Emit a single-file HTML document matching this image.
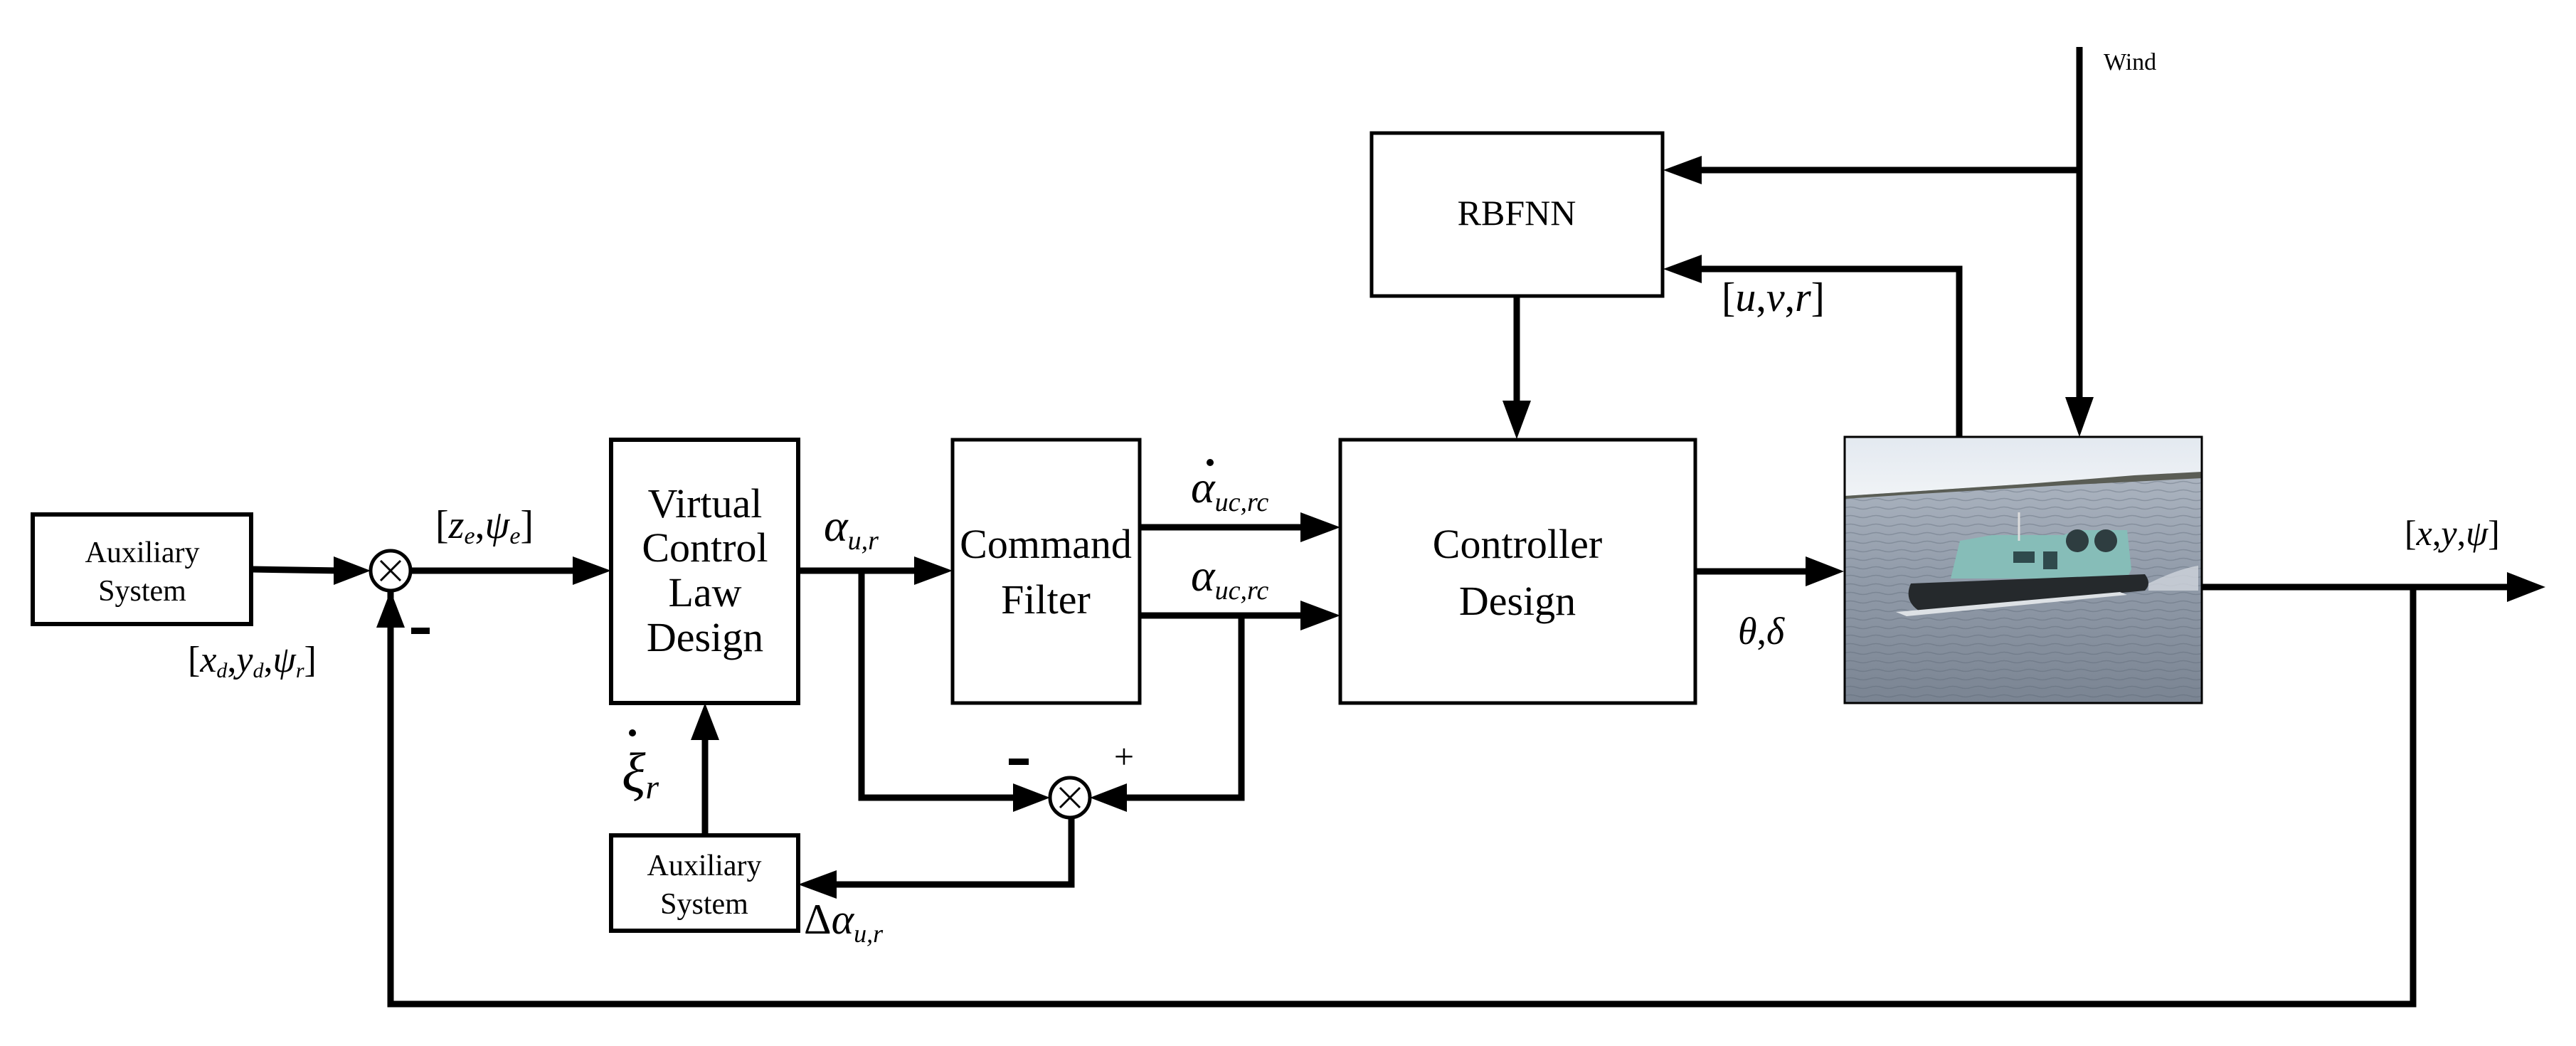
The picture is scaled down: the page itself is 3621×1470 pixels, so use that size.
<!DOCTYPE html>
<html><head><meta charset="utf-8"><style>
html,body{margin:0;padding:0;background:#fff;}
svg{display:block;}
svg text{font-family:"Liberation Serif","DejaVu Serif",serif;fill:#000;}
.it{font-style:italic;}
</style></head><body>
<svg width="3621" height="1470" viewBox="0 0 3621 1470" xmlns="http://www.w3.org/2000/svg" font-family="Liberation Serif, DejaVu Serif, serif">
<defs>
<linearGradient id="sky" x1="0" y1="0" x2="0" y2="1"><stop offset="0" stop-color="#e3e9f0"/><stop offset="1" stop-color="#f0f3f6"/></linearGradient>
<linearGradient id="water" x1="0" y1="0" x2="0" y2="1"><stop offset="0" stop-color="#b6bec9"/><stop offset="0.5" stop-color="#939dab"/><stop offset="1" stop-color="#7a8492"/></linearGradient>
<pattern id="waves" width="36" height="12" patternUnits="userSpaceOnUse"><path d="M0 6 Q9 3 18 6 T36 6" fill="none" stroke="#56606e" stroke-width="1.5" opacity="0.35"/></pattern>
</defs>

<g fill="none" stroke="#000">
<rect x="46" y="723" width="307" height="154" stroke-width="6"/>
<rect x="859" y="618" width="263" height="370" stroke-width="6"/>
<rect x="1339" y="618" width="263" height="370" stroke-width="5"/>
<rect x="1884" y="618" width="499" height="370" stroke-width="5"/>
<rect x="1928" y="187" width="409" height="229" stroke-width="5"/>
<rect x="859" y="1174" width="263" height="134" stroke-width="6"/>
<circle cx="549" cy="802" r="28" stroke-width="5"/>
<circle cx="1504" cy="1121" r="28" stroke-width="5"/>
</g>
<g stroke="#000" stroke-width="3">
<line x1="535" y1="788" x2="563" y2="816"/><line x1="563" y1="788" x2="535" y2="816"/>
<line x1="1490" y1="1107" x2="1518" y2="1135"/><line x1="1518" y1="1107" x2="1490" y2="1135"/>
</g>

<g fill="none" stroke="#000" stroke-width="9" stroke-linejoin="miter">
<line x1="353" y1="800" x2="480" y2="802"/>
<line x1="577" y1="802" x2="810" y2="802"/>
<line x1="1122" y1="802" x2="1290" y2="802"/>
<polyline points="1211,802 1211,1121 1440,1121"/>
<line x1="1602" y1="741" x2="1830" y2="741"/>
<line x1="1602" y1="865" x2="1830" y2="865"/>
<polyline points="1745,865 1745,1121 1568,1121"/>
<polyline points="1506,1149 1506,1243 1175,1243"/>
<line x1="991" y1="1174" x2="991" y2="1040"/>
<polyline points="549,830 549,1411 3392,1411 3392,825"/>
<line x1="3095" y1="825" x2="3525" y2="825"/>
<line x1="2383" y1="803" x2="2540" y2="803"/>
<line x1="2132" y1="416" x2="2132" y2="565"/>
<line x1="2923" y1="66" x2="2923" y2="560"/>
<line x1="2923" y1="239" x2="2390" y2="239"/>
<polyline points="2754,614 2754,378 2390,378"/>
</g>
<g fill="#000">
<polygon points="521,802 469,782 469,822"/>
<polygon points="859,802 805,782 805,822"/>
<polygon points="1339,802 1285,782 1285,822"/>
<polygon points="1884,741 1828,720 1828,762"/>
<polygon points="1884,865 1828,844 1828,886"/>
<polygon points="1476,1121 1424,1101 1424,1141"/>
<polygon points="1532,1121 1584,1101 1584,1141"/>
<polygon points="1122,1243 1176,1223 1176,1263"/>
<polygon points="991,988 971,1040 1011,1040"/>
<polygon points="549,830 529,882 569,882"/>
<polygon points="2592,803 2538,782 2538,824"/>
<polygon points="3578,825 3524,804 3524,846"/>
<polygon points="2132,617 2112,563 2152,563"/>
<polygon points="2923,614 2903,558 2943,558"/>
<polygon points="2338,239 2392,219 2392,259"/>
<polygon points="2338,378 2392,358 2392,398"/>
</g>

<g>
<rect x="2593" y="614" width="502" height="374" fill="url(#water)"/>
<rect x="2593" y="614" width="502" height="374" fill="url(#waves)"/>
<polygon points="2593,614 3095,614 3095,664 2593,697" fill="url(#sky)"/>
<polygon points="2593,697 2700,690 2850,680 3000,668 3095,663 3095,672 2900,682 2700,694 2593,701" fill="#5a5d55"/>
<polygon points="2742,813 2755,760 2800,752 2900,752 2920,745 2990,745 2996,800 2990,813" fill="#86bdb8"/>
<circle cx="2920" cy="760" r="16" fill="#2e3d40"/>
<circle cx="2960" cy="760" r="16" fill="#2e3d40"/>
<rect x="2830" y="775" width="30" height="16" fill="#2f4a4c"/>
<rect x="2872" y="775" width="20" height="25" fill="#2f4a4c"/>
<line x1="2838" y1="760" x2="2838" y2="720" stroke="#ddd" stroke-width="3"/>
<path d="M2686 820 L3015 807 Q3025 820 3015 830 L2700 860 Q2675 845 2686 820 Z" fill="#25292c"/>
<path d="M2665 860 L2980 832 L2990 836 L2680 866 Z" fill="#dde1e5"/>
<path d="M3020 820 Q3060 800 3090 795 L3090 830 Q3050 830 3020 830 Z" fill="#d0d5dc" opacity="0.8"/>
<rect x="2593" y="614" width="502" height="374" fill="none" stroke="#000" stroke-width="3"/>
</g>

<g font-size="42" text-anchor="middle">
<text x="200" y="790">Auxiliary</text>
<text x="200" y="844">System</text>
<text x="990" y="1230">Auxiliary</text>
<text x="990" y="1284">System</text>
</g>
<g font-size="58" text-anchor="middle">
<text x="991" y="727">Virtual</text>
<text x="991" y="789">Control</text>
<text x="991" y="852">Law</text>
<text x="991" y="915">Design</text>
<text x="1470" y="784">Command</text>
<text x="1470" y="862">Filter</text>
<text x="2133" y="784">Controller</text>
<text x="2133" y="864">Design</text>
<text x="2132" y="316" font-size="50">RBFNN</text>
</g>
<text x="2957" y="98" font-size="34">Wind</text>

<text x="612" y="756" font-size="56">[<tspan class="it">z</tspan><tspan class="it" font-size="34" dy="8">e</tspan><tspan dy="-8">,</tspan><tspan class="it">ψ</tspan><tspan class="it" font-size="34" dy="8">e</tspan><tspan dy="-8">]</tspan></text>
<text x="264" y="944" font-size="52">[<tspan class="it">x</tspan><tspan class="it" font-size="30" dy="8">d</tspan><tspan dy="-8">,</tspan><tspan class="it">y</tspan><tspan class="it" font-size="30" dy="8">d</tspan><tspan dy="-8">,</tspan><tspan class="it">ψ</tspan><tspan class="it" font-size="30" dy="8">r</tspan><tspan dy="-8">]</tspan></text>
<text x="1158" y="760" font-size="64" class="it">α<tspan font-size="38" dy="12">u,r</tspan></text>
<text x="1674" y="706" font-size="64" class="it">α<tspan font-size="38" dy="12">uc,rc</tspan></text>
<circle cx="1701" cy="650" r="5" fill="#000"/>
<text x="1674" y="830" font-size="64" class="it">α<tspan font-size="38" dy="12">uc,rc</tspan></text>
<text x="874" y="1112" font-size="78" class="it">ξ<tspan font-size="48" dy="10">r</tspan></text>
<circle cx="889" cy="1030" r="5" fill="#000"/>
<text x="1130" y="1312" font-size="60">Δ<tspan class="it">α</tspan><tspan class="it" font-size="36" dy="12">u,r</tspan></text>
<text x="2420" y="437" font-size="58">[<tspan class="it">u</tspan>,<tspan class="it">v</tspan>,<tspan class="it">r</tspan>]</text>
<text x="2443" y="905" font-size="54" class="it">θ<tspan font-style="normal">,</tspan>δ</text>
<text x="3380" y="766" font-size="50">[<tspan class="it">x</tspan>,<tspan class="it">y</tspan>,<tspan class="it">ψ</tspan>]</text>

<rect x="578" y="882" width="26" height="9" fill="#000"/>
<rect x="1418" y="1066" width="28" height="9" fill="#000"/>
<text x="1580" y="1080" font-size="50" text-anchor="middle">+</text>
</svg>
</body></html>
